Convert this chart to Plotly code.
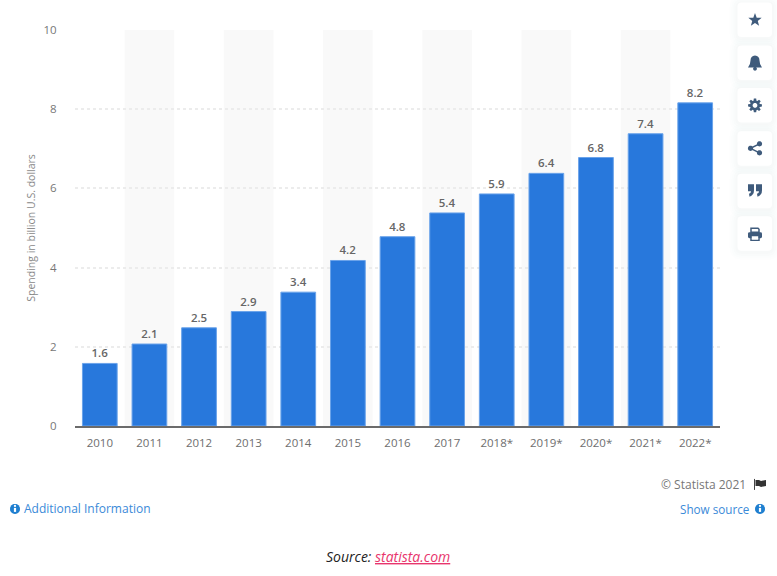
import math
import plotly.graph_objects as go

years = ['2010', '2011', '2012', '2013', '2014', '2015', '2016', '2017',
         '2018*', '2019*', '2020*', '2021*', '2022*']
spending = [1.58, 2.07, 2.48, 2.89, 3.38, 4.18, 4.78, 5.38, 5.86, 6.38, 6.78, 7.38, 8.16]
y_ticks = [0, 2, 4, 6, 8, 10]

BLUE = '#2878dc'
ICON = '#3f5b7c'
LINK = '#3a8ad8'

# plot area in page pixels
L, R, T, B = 75, 720, 29.5, 426


def px(x, y):
    return f'{(x - L) / (R - L):.5f} {(B - y) / (B - T):.5f}'


def poly(points):
    return 'M' + ' L'.join(px(x, y) for x, y in points) + ' Z'


def round_rect(x0, y0, x1, y1, r):
    return (f'M{px(x0 + r, y0)} L{px(x1 - r, y0)} Q{px(x1, y0)} {px(x1, y0 + r)} '
            f'L{px(x1, y1 - r)} Q{px(x1, y1)} {px(x1 - r, y1)} '
            f'L{px(x0 + r, y1)} Q{px(x0, y1)} {px(x0, y1 - r)} '
            f'L{px(x0, y0 + r)} Q{px(x0, y0)} {px(x0 + r, y0)} Z')


def circle(cx, cy, r):
    pts = [(cx + r * math.cos(i * math.pi / 12), cy + r * math.sin(i * math.pi / 12)) for i in range(24)]
    return poly(pts)


def filled(path, color=ICON):
    return dict(type='path', xref='paper', yref='paper', path=path, fillcolor=color,
                line=dict(width=0), layer='above')


def stroked(path, width, color=ICON):
    return dict(type='path', xref='paper', yref='paper', path=path,
                line=dict(width=width, color=color), layer='above')


shapes = []

# alternating column bands
for i in range(1, len(years), 2):
    shapes.append(dict(type='rect', xref='x', yref='paper', x0=i - 0.5, x1=i + 0.5, y0=0, y1=1,
                       fillcolor='#f9f9f9', line=dict(width=0), layer='below'))

# side buttons
button_tops = [2, 45, 87.5, 131, 173.5, 216]
for top in button_tops:
    for grow, alpha in [(8, 0.006), (6, 0.008), (4, 0.010), (2, 0.012)]:
        shapes.append(filled(round_rect(737.5 - grow, top - grow + 1, 772 + grow, top + 34.5 + grow + 1, 4 + grow),
                             f'rgba(60,80,110,{alpha})'))
    shapes.append(filled(round_rect(737.5, top, 772, top + 34.5, 4), '#ffffff'))

cx = 755
# star
cy = 19.5
shapes.append(filled(poly([(cx + (7 if i % 2 == 0 else 2.9) * math.sin(i * math.pi / 5),
                            cy - (7 if i % 2 == 0 else 2.9) * math.cos(i * math.pi / 5)) for i in range(10)])))
# bell
cy = 62
shapes.append(filled(f'M{px(cx - 7, cy + 5)} Q{px(cx - 4.5, cy + 2)} {px(cx - 4.5, cy - 2)} '
                     f'Q{px(cx - 4.5, cy - 6.5)} {px(cx, cy - 7)} Q{px(cx + 4.5, cy - 6.5)} {px(cx + 4.5, cy - 2)} '
                     f'Q{px(cx + 4.5, cy + 2)} {px(cx + 7, cy + 5)} Z'))
shapes.append(filled(circle(cx, cy + 6.3, 1.9)))
# gear
cy = 105
gear = []
for i in range(8):
    a = i * math.pi / 4
    for da, r in [(-0.3, 5), (-0.17, 7), (0.17, 7), (0.3, 5)]:
        gear.append((cx + r * math.cos(a + da), cy + r * math.sin(a + da)))
shapes.append(filled(poly(gear)))
shapes.append(filled(circle(cx, cy, 2.4), '#ffffff'))
# share
cy = 148
shapes.append(stroked(f'M{px(cx + 4.5, cy - 4.5)} L{px(cx - 4.5, cy)} L{px(cx + 4.5, cy + 4.5)}', 1.6))
shapes.append(filled(circle(cx + 4.5, cy - 4.5, 2.6)))
shapes.append(filled(circle(cx - 4.5, cy, 2.6)))
shapes.append(filled(circle(cx + 4.5, cy + 4.5, 2.6)))
# quote
cy = 190
for off in (-7, 1):
    shapes.append(filled(f'M{px(cx + off, cy - 6)} L{px(cx + off + 6, cy - 6)} L{px(cx + off + 6, cy)} '
                         f'Q{px(cx + off + 6, cy + 5)} {px(cx + off + 1.5, cy + 6.5)} L{px(cx + off + 1, cy + 3.5)} '
                         f'Q{px(cx + off + 3, cy + 3)} {px(cx + off + 3, cy + 1)} L{px(cx + off, cy + 1)} Z'))
# print
cy = 234
shapes.append(filled(round_rect(cx - 7, cy - 2, cx + 7, cy + 4, 1.5)))
shapes.append(stroked(poly([(cx - 4, cy - 2), (cx - 4, cy - 6), (cx + 3, cy - 6), (cx + 4, cy - 5), (cx + 4, cy - 2)]), 1.5))
shapes.append(stroked(poly([(cx - 4, cy + 2), (cx - 4, cy + 6), (cx + 4, cy + 6), (cx + 4, cy + 2)]), 1.5))
shapes.append(filled(poly([(cx - 3.2, cy + 2), (cx + 3.2, cy + 2), (cx + 3.2, cy + 5.3), (cx - 3.2, cy + 5.3)]), '#ffffff'))

# footer info icons
for ix in (15, 760):
    shapes.append(filled(circle(ix, 509, 5), '#1f7fd0'))
    shapes.append(filled(poly([(ix - 1.1, 508), (ix + 1.1, 508), (ix + 1.1, 512), (ix - 1.1, 512)]), '#ffffff'))
    shapes.append(filled(circle(ix, 506, 1.1), '#ffffff'))

# flag
shapes.append(stroked(f'M{px(754.5, 479)} L{px(754.5, 490)}', 1, '#444444'))
shapes.append(filled(poly([(755.5, 480), (759, 480), (761, 481), (766, 480), (766, 486), (761, 487), (759, 486), (755.5, 486)]), '#333333'))

fig = go.Figure(go.Bar(
    x=years, y=spending,
    marker=dict(color=BLUE, line=dict(width=1, color='#6aa3ea')),
    text=[f'{v:.1f}' for v in spending], textposition='outside', cliponaxis=False,
    textfont=dict(family='Open Sans', size=11.5, color='#666666', weight=600),
    hoverinfo='skip',
))


def note(text, x, y, anchor, size, color):
    return dict(text=text, xref='paper', yref='paper', x=(x - L) / (R - L), y=(B - y) / (B - T),
                xanchor=anchor, yanchor='middle', showarrow=False,
                font=dict(family='Open Sans', size=size, color=color))


fig.update_layout(
    width=777, height=576,
    margin=dict(l=L, r=777 - R, t=T, b=576 - B),
    paper_bgcolor='white', plot_bgcolor='white',
    showlegend=False, bargap=0.3, shapes=shapes,
    xaxis=dict(type='category', categoryorder='array', categoryarray=years, range=[-0.5, 12.5],
               showgrid=False, showline=True, linecolor='#6b6b6b', linewidth=1.5,
               ticks='outside', ticklen=5, tickcolor='rgba(0,0,0,0)',
               tickfont=dict(family='Open Sans', size=11.5, color='#6e6e6e')),
    yaxis=dict(range=[0, 10], tickvals=y_ticks, showline=False, zeroline=False,
               showgrid=True, gridcolor='#ececec', griddash='dot', gridwidth=1.5,
               ticks='outside', ticklen=15, tickcolor='rgba(0,0,0,0)',
               tickfont=dict(family='Open Sans', size=11.5, color='#777777'),
               title=dict(text='Spending in billion U.S. dollars', standoff=5,
                          font=dict(family='Open Sans', size=10.5, color='#888888'))),
    annotations=[
        note('© Statista 2021', 748, 485, 'right', 12, '#777777'),
        note('Additional Information', 21.5, 509, 'left', 12, LINK),
        note('Show source', 751, 509, 'right', 11.7, LINK),
        note('<i>Source: <span style="color:#e8356d"><u>statista.com</u></span></i>', 388, 557, 'center', 14, '#222222'),
    ],
)

fig.write_html('out.html', config=dict(displayModeBar=False),
               post_script="document.body.style.margin='0';window.dispatchEvent(new Event('resize'));")
